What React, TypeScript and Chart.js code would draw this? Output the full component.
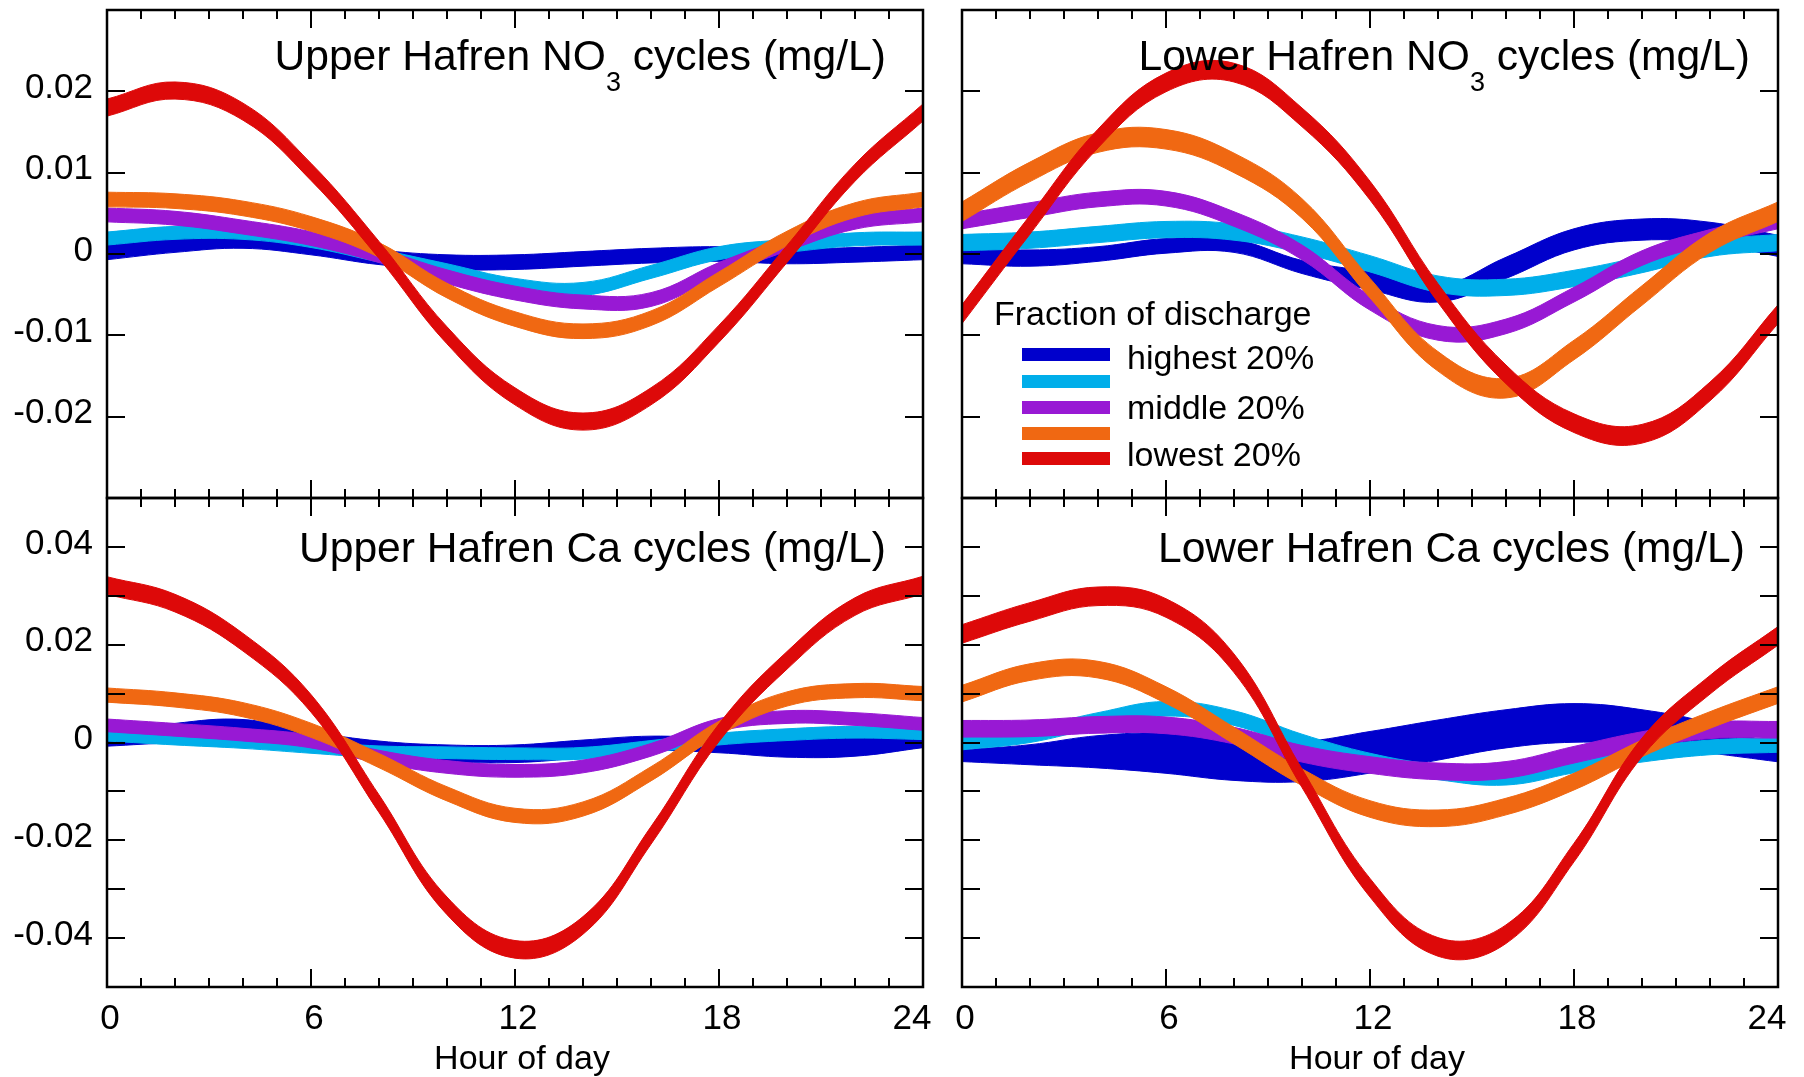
import React, { useEffect, useRef } from 'react';
import { Chart, registerables } from 'chart.js';

Chart.register(...registerables);

// ---------------- DATA ----------------
// Hour of day at which band centres were read
const HOURS = [0, 2, 4, 6, 8, 10, 12, 14, 16, 18, 20, 22, 24];

// Series names (fraction of discharge), in legend order
const SERIES_KEYS = ['highest', 'upperMid', 'middle', 'lowerMid', 'lowest'];
const LEGEND_LABELS = ['highest 20%', '', 'middle 20%', '', 'lowest 20%'];

// Upper Hafren NO3 cycles (mg/L): band centres and band widths
const uNO3_highest = [0.0002, 0.0011, 0.0016, 0.0008, -0.0004, -0.0010, -0.0010, -0.0006, -0.0002, 0.0000, -0.0003, -0.0001, 0.0002];
const uNO3_highest_w = 0.0018;
const uNO3_upperMid = [0.0019, 0.0026, 0.0026, 0.0016, -0.0002, -0.0020, -0.0038, -0.0043, -0.0022, 0.0001, 0.0010, 0.0018, 0.0019];
const uNO3_upperMid_w = 0.0016;
const uNO3_middle = [0.0048, 0.0044, 0.0033, 0.0019, -0.0002, -0.0028, -0.0048, -0.0059, -0.0056, -0.0019, 0.0012, 0.0039, 0.0048];
const uNO3_middle_w = 0.0017;
const uNO3_lowerMid = [0.0067, 0.0065, 0.0056, 0.0037, 0.0005, -0.0045, -0.0080, -0.0095, -0.0079, -0.0031, 0.0019, 0.0054, 0.0067];
const uNO3_lowerMid_w = 0.0018;
const uNO3_lowest = [0.0180, 0.0201, 0.0175, 0.0101, 0.0005, -0.0100, -0.0175, -0.0206, -0.0175, -0.0098, 0.0000, 0.0100, 0.0174];
const uNO3_lowest_w = 0.0021;

// Lower Hafren NO3 cycles (mg/L)
const lNO3_highest = [-0.0002, -0.0005, 0.0000, 0.0010, 0.0010, -0.0016, -0.0033, -0.0049, -0.0017, 0.0018, 0.0030, 0.0026, 0.0010];
const lNO3_highest_w = [0.0020, 0.0020, 0.0018, 0.0018, 0.0016, 0.0016, 0.0022, 0.0020, 0.0026, 0.0026, 0.0026, 0.0026, 0.0026];
const lNO3_upperMid = [0.0014, 0.0017, 0.0024, 0.0030, 0.0027, 0.0011, -0.0012, -0.0037, -0.0041, -0.0030, -0.0013, 0.0007, 0.0014];
const lNO3_upperMid_w = 0.0020;
const lNO3_middle = [0.0040, 0.0054, 0.0067, 0.0068, 0.0043, 0.0002, -0.0060, -0.0097, -0.0089, -0.0050, -0.0005, 0.0021, 0.0040];
const lNO3_middle_w = 0.0018;
const lNO3_lowerMid = [0.0052, 0.0101, 0.0137, 0.0141, 0.0112, 0.0056, -0.0042, -0.0132, -0.0165, -0.0118, -0.0051, 0.0014, 0.0052];
const lNO3_lowerMid_w = 0.0024;
const lNO3_lowest = [-0.0074, 0.0036, 0.0142, 0.0211, 0.0223, 0.0168, 0.0078, -0.0048, -0.0148, -0.0208, -0.0221, -0.0169, -0.0074];
const lNO3_lowest_w = 0.0023;

// Upper Hafren Ca cycles (mg/L)
const uCa_highest = [0.0005, 0.0019, 0.0022, 0.0007, -0.0012, -0.0022, -0.0023, -0.0013, -0.0002, -0.0006, -0.0010, -0.0008, 0.0002];
const uCa_highest_w = [0.0025, 0.0040, 0.0050, 0.0030, 0.0030, 0.0034, 0.0036, 0.0036, 0.0030, 0.0030, 0.0040, 0.0040, 0.0025];
const uCa_upperMid = [0.0015, 0.0007, 0.0000, -0.0010, -0.0019, -0.0021, -0.0023, -0.0022, -0.0008, 0.0007, 0.0016, 0.0021, 0.0018];
const uCa_upperMid_w = 0.0024;
const uCa_middle = [0.0035, 0.0026, 0.0016, 0.0002, -0.0029, -0.0050, -0.0058, -0.0049, -0.0015, 0.0036, 0.0052, 0.0048, 0.0038];
const uCa_middle_w = 0.0026;
const uCa_lowerMid = [0.0097, 0.0087, 0.0067, 0.0025, -0.0037, -0.0105, -0.0149, -0.0136, -0.0064, 0.0029, 0.0089, 0.0106, 0.0100];
const uCa_lowerMid_w = 0.0029;
const uCa_lowest = [0.0321, 0.0285, 0.0205, 0.0080, -0.0125, -0.0334, -0.0423, -0.0374, -0.0190, 0.0020, 0.0168, 0.0278, 0.0322];
const uCa_lowest_w = 0.0036;

// Lower Hafren Ca cycles (mg/L)
const lCa_highest = [-0.0027, -0.0025, -0.0019, -0.0022, -0.0036, -0.0039, -0.0020, 0.0005, 0.0028, 0.0040, 0.0031, 0.0009, -0.0024];
const lCa_highest_w = [0.0024, 0.0041, 0.0066, 0.0082, 0.0083, 0.0082, 0.0085, 0.0082, 0.0078, 0.0079, 0.0072, 0.0061, 0.0031];
const lCa_upperMid = [0.0000, 0.0015, 0.0046, 0.0069, 0.0050, 0.0002, -0.0037, -0.0061, -0.0072, -0.0047, -0.0025, -0.0010, -0.0005];
const lCa_upperMid_w = 0.0030;
const lCa_middle = [0.0028, 0.0029, 0.0036, 0.0035, 0.0014, -0.0023, -0.0046, -0.0059, -0.0056, -0.0025, 0.0005, 0.0025, 0.0026];
const lCa_middle_w = 0.0034;
const lCa_lowerMid = [0.0100, 0.0144, 0.0149, 0.0097, 0.0014, -0.0071, -0.0136, -0.0155, -0.0131, -0.0080, -0.0012, 0.0046, 0.0097];
const lCa_lowerMid_w = 0.0034;
const lCa_lowest = [0.0222, 0.0267, 0.0299, 0.0275, 0.0162, -0.0073, -0.0297, -0.0418, -0.0392, -0.0225, -0.0010, 0.0118, 0.0218];
const lCa_lowest_w = 0.0038;

// Axis tick values
const X_LABELS = [0, 6, 12, 18, 24];
const NO3_LABELS = [-0.02, -0.01, 0, 0.01, 0.02];
const CA_LABELS = [-0.04, -0.02, 0, 0.02, 0.04];

// ---------------- STYLE ----------------
const COLORS: Record<string, string> = {
  highest: '#0000cc',
  upperMid: '#00aeea',
  middle: '#9819d4',
  lowerMid: '#f06812',
  lowest: '#dd0909',
};
const FONT = "'Liberation Sans', Arial, Helvetica, sans-serif";
const TICK_SIZE = 35;
const AXIS_TITLE_SIZE = 34;

type Series = Record<string, { mid: number[]; w: number | number[] }>;

interface PanelDef {
  id: string;
  title: string;
  sub?: string;
  titleRest?: string;
  canvas: { left: number; top: number; width: number; height: number };
  area: { left: number; top: number; right: number; bottom: number };
  yMin: number;
  yMax: number;
  yLabels: number[] | null;
  showX: boolean;
  series: Series;
  titleRight: number;
  titleBaseline: number;
}

const PANELS: PanelDef[] = [
  {
    id: 'uNO3', title: 'Upper Hafren NO', sub: '3', titleRest: ' cycles (mg/L)',
    canvas: { left: 0, top: -40, width: 960, height: 580 },
    area: { left: 107, top: 50, right: 923, bottom: 538 },
    yMin: -0.03, yMax: 0.03, yLabels: NO3_LABELS, showX: false,
    series: {
      highest: { mid: uNO3_highest, w: uNO3_highest_w },
      upperMid: { mid: uNO3_upperMid, w: uNO3_upperMid_w },
      middle: { mid: uNO3_middle, w: uNO3_middle_w },
      lowerMid: { mid: uNO3_lowerMid, w: uNO3_lowerMid_w },
      lowest: { mid: uNO3_lowest, w: uNO3_lowest_w },
    },
    titleRight: 886, titleBaseline: 70,
  },
  {
    id: 'lNO3', title: 'Lower Hafren NO', sub: '3', titleRest: ' cycles (mg/L)',
    canvas: { left: 920, top: -40, width: 884, height: 580 },
    area: { left: 42, top: 50, right: 858, bottom: 538 },
    yMin: -0.03, yMax: 0.03, yLabels: null, showX: false,
    series: {
      highest: { mid: lNO3_highest, w: lNO3_highest_w },
      upperMid: { mid: lNO3_upperMid, w: lNO3_upperMid_w },
      middle: { mid: lNO3_middle, w: lNO3_middle_w },
      lowerMid: { mid: lNO3_lowerMid, w: lNO3_lowerMid_w },
      lowest: { mid: lNO3_lowest, w: lNO3_lowest_w },
    },
    titleRight: 1750, titleBaseline: 70,
  },
  {
    id: 'uCa', title: 'Upper Hafren Ca cycles (mg/L)',
    canvas: { left: 0, top: 460, width: 960, height: 620 },
    area: { left: 107, top: 38, right: 923, bottom: 527 },
    yMin: -0.05, yMax: 0.05, yLabels: CA_LABELS, showX: true,
    series: {
      highest: { mid: uCa_highest, w: uCa_highest_w },
      upperMid: { mid: uCa_upperMid, w: uCa_upperMid_w },
      middle: { mid: uCa_middle, w: uCa_middle_w },
      lowerMid: { mid: uCa_lowerMid, w: uCa_lowerMid_w },
      lowest: { mid: uCa_lowest, w: uCa_lowest_w },
    },
    titleRight: 886, titleBaseline: 562,
  },
  {
    id: 'lCa', title: 'Lower Hafren Ca cycles (mg/L)',
    canvas: { left: 920, top: 460, width: 884, height: 620 },
    area: { left: 42, top: 38, right: 858, bottom: 527 },
    yMin: -0.05, yMax: 0.05, yLabels: null, showX: true,
    series: {
      highest: { mid: lCa_highest, w: lCa_highest_w },
      upperMid: { mid: lCa_upperMid, w: lCa_upperMid_w },
      middle: { mid: lCa_middle, w: lCa_middle_w },
      lowerMid: { mid: lCa_lowerMid, w: lCa_lowerMid_w },
      lowest: { mid: lCa_lowest, w: lCa_lowest_w },
    },
    titleRight: 1745, titleBaseline: 562,
  },
];

// frame + inward tick marks, positioned through the chart's own scales
const framePlugin = {
  id: 'frameTicks',
  beforeDraw(chart: any) {
    const xs = chart.scales.x;
    if (!xs || !xs.options.ticks.display) return;
    // nudge the axis title slightly right, as in the original figure
    if (!xs.__titleShifted) {
      const orig = xs.drawTitle;
      xs.drawTitle = function (...args: any[]) {
        const ctx = this.ctx;
        ctx.save();
        ctx.translate(7, 0);
        orig.apply(this, args);
        ctx.restore();
      };
      xs.__titleShifted = true;
    }
    // keep the last hour label inside the frame, as in the original figure
    const items = xs.getLabelItems ? xs.getLabelItems() : null;
    if (!items) return;
    items.forEach((it: any) => {
      if (it.label === '24' && it.options && it.options.translation) {
        it.options.translation[0] -= 14;
      }
    });
  },
  afterDatasetsDraw(chart: any) {
    const { ctx, chartArea: a, scales } = chart;
    const xs = scales.x;
    const ys = scales.y;
    ctx.save();
    ctx.strokeStyle = '#000';
    ctx.lineWidth = 2;
    ctx.beginPath();
    xs.ticks.forEach((t: any) => {
      const v = Math.round(t.value);
      if (v <= 0 || v >= 24) return;
      const px = Math.round(xs.getPixelForValue(v));
      const len = v % 6 === 0 ? 18 : 9;
      ctx.moveTo(px, a.bottom);
      ctx.lineTo(px, a.bottom - len);
      ctx.moveTo(px, a.top);
      ctx.lineTo(px, a.top + len);
    });
    ys.ticks.forEach((t: any) => {
      const v = t.value;
      if (v <= ys.min + 1e-6 || v >= ys.max - 1e-6) return;
      const py = Math.round(ys.getPixelForValue(v));
      ctx.moveTo(a.left, py);
      ctx.lineTo(a.left + 18, py);
      ctx.moveTo(a.right, py);
      ctx.lineTo(a.right - 18, py);
    });
    ctx.stroke();
    ctx.lineWidth = 2.5;
    ctx.strokeRect(a.left, a.top, a.right - a.left, a.bottom - a.top);
    ctx.restore();
  },
};

function buildDatasets(series: Series) {
  const out: any[] = [];
  // lowest first so that it is drawn on top
  const drawOrder = [...SERIES_KEYS].reverse();
  drawOrder.forEach((k) => {
    const { mid, w } = series[k];
    const wAt = (i: number) => (Array.isArray(w) ? w[i] : w);
    const color = COLORS[k];
    out.push({
      label: k + ' upper',
      data: HOURS.map((h, i) => ({ x: h, y: mid[i] + wAt(i) / 2 })),
      fill: '+1',
      backgroundColor: color,
      borderColor: color,
      borderWidth: 1,
      pointRadius: 0,
      tension: 0.4,
    });
    out.push({
      label: k + ' lower',
      data: HOURS.map((h, i) => ({ x: h, y: mid[i] - wAt(i) / 2 })),
      fill: false,
      backgroundColor: color,
      borderColor: color,
      borderWidth: 1,
      pointRadius: 0,
      tension: 0.4,
    });
  });
  return out;
}

function PanelChart({ p }: { p: PanelDef }) {
  const ref = useRef<HTMLCanvasElement | null>(null);
  useEffect(() => {
    if (!ref.current) return;
    const { canvas: c, area } = p;
    const yWidth = area.left;
    const xHeight = c.height - area.bottom;
    const chart = new Chart(ref.current, {
      type: 'line',
      data: { datasets: buildDatasets(p.series) },
      options: {
        responsive: false,
        animation: false,
        devicePixelRatio: 1,
        layout: {
          autoPadding: false,
          padding: { left: 0, top: area.top, right: c.width - area.right, bottom: 0 },
        },
        plugins: {
          legend: { display: false },
          tooltip: { enabled: false },
          title: { display: false },
        },
        scales: {
          x: {
            type: 'linear',
            min: 0,
            max: 24,
            grid: { display: false },
            border: { display: false },
            ticks: {
              display: p.showX,
              stepSize: 1,
              autoSkip: false,
              maxRotation: 0,
              padding: 3,
              labelOffset: 3,
              color: '#000',
              font: { family: FONT, size: TICK_SIZE },
              callback: (v: any) => (X_LABELS.includes(Math.round(v)) ? String(Math.round(v)) : ''),
            },
            title: {
              display: p.showX,
              text: 'Hour of day',
              color: '#000',
              font: { family: FONT, size: AXIS_TITLE_SIZE },
              padding: { top: 0, bottom: 0 },
            },
            afterFit: (s: any) => {
              s.height = xHeight;
            },
          },
          y: {
            type: 'linear',
            min: p.yMin,
            max: p.yMax,
            grid: { display: false },
            border: { display: false },
            ticks: {
              display: !!p.yLabels,
              stepSize: 0.01,
              autoSkip: false,
              padding: 6,
              labelOffset: -3,
              color: '#000',
              font: { family: FONT, size: TICK_SIZE },
              callback: (v: any) => {
                const n = Math.round(Number(v) * 100);
                const labels = p.yLabels || [];
                const hit = labels.some((l) => Math.round(l * 100) === n);
                if (!hit) return '';
                return n === 0 ? '0' : String(n / 100);
              },
            },
            afterFit: (s: any) => {
              s.width = yWidth;
            },
          },
        },
      },
      plugins: [framePlugin],
    } as any);
    return () => chart.destroy();
  }, [p]);
  return (
    <canvas
      ref={ref}
      width={p.canvas.width}
      height={p.canvas.height}
      style={{
        position: 'absolute',
        left: p.canvas.left,
        top: p.canvas.top,
        width: p.canvas.width,
        height: p.canvas.height,
      }}
    />
  );
}

const TITLE_SIZE = 42.6;
const SUB_SIZE = 27;
const LEGEND_SIZE = 34;
const ASC = 0.8465; // baseline offset for line-height 1

function Title({ p }: { p: PanelDef }) {
  return (
    <div
      style={{
        position: 'absolute',
        right: 1804 - p.titleRight,
        top: p.titleBaseline - ASC * TITLE_SIZE,
        fontSize: TITLE_SIZE,
        lineHeight: `${TITLE_SIZE}px`,
        whiteSpace: 'nowrap',
        color: '#000',
      }}
    >
      {p.title}
      {p.sub ? (
        <span style={{ fontSize: SUB_SIZE, lineHeight: 0, position: 'relative', top: 21 }}>{p.sub}</span>
      ) : null}
      {p.titleRest || ''}
    </div>
  );
}

const LEGEND_SWATCH_TOPS = [348, 375, 401, 427, 452];
const LEGEND_LABEL_BASELINES = [369, 0, 419, 0, 466];

function Legend() {
  return (
    <>
      <div
        style={{
          position: 'absolute',
          left: 994,
          top: 325 - ASC * LEGEND_SIZE,
          fontSize: LEGEND_SIZE,
          lineHeight: `${LEGEND_SIZE}px`,
          whiteSpace: 'nowrap',
        }}
      >
        Fraction of discharge
      </div>
      {SERIES_KEYS.map((k, i) => (
        <React.Fragment key={k}>
          <div
            style={{
              position: 'absolute',
              left: 1022,
              top: LEGEND_SWATCH_TOPS[i],
              width: 88,
              height: 12.5,
              background: COLORS[k],
            }}
          />
          {LEGEND_LABELS[i] ? (
            <div
              style={{
                position: 'absolute',
                left: 1127,
                top: LEGEND_LABEL_BASELINES[i] - ASC * LEGEND_SIZE,
                fontSize: LEGEND_SIZE,
                lineHeight: `${LEGEND_SIZE}px`,
                whiteSpace: 'nowrap',
              }}
            >
              {LEGEND_LABELS[i]}
            </div>
          ) : null}
        </React.Fragment>
      ))}
    </>
  );
}

export default function App() {
  return (
    <div
      style={{
        position: 'absolute',
        left: 0,
        top: 0,
        width: 1804,
        height: 1077,
        background: '#fff',
        fontFamily: FONT,
        color: '#000',
        overflow: 'hidden',
      }}
    >
      {PANELS.map((p) => (
        <PanelChart key={p.id} p={p} />
      ))}
      {PANELS.map((p) => (
        <Title key={p.id + 't'} p={p} />
      ))}
      <Legend />
    </div>
  );
}
